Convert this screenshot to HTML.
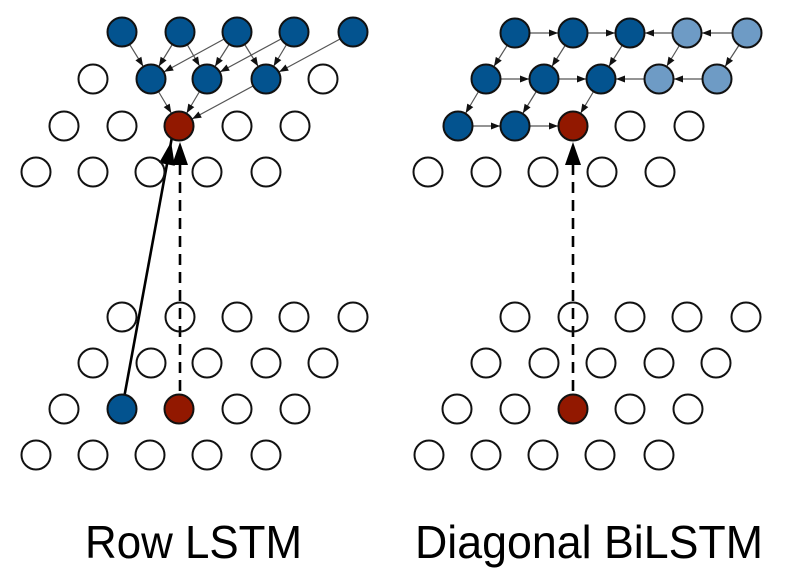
<!DOCTYPE html>
<html><head><meta charset="utf-8"><style>
html,body{margin:0;padding:0;background:#fff;width:796px;height:579px;overflow:hidden}
svg{display:block}
</style></head><body>
<svg width="796" height="579" viewBox="0 0 796 579" xmlns="http://www.w3.org/2000/svg">
<defs>
<marker id="s" markerUnits="userSpaceOnUse" markerWidth="40" markerHeight="10" refX="24" refY="3.5" orient="auto" overflow="visible">
<path d="M0,0 L9,3.5 L0,7 z" fill="#111"/></marker>
<marker id="b" markerUnits="userSpaceOnUse" markerWidth="60" markerHeight="20" refX="39" refY="8" orient="auto" overflow="visible">
<path d="M0,0 L23,8 L0,16 z" fill="#000"/></marker>
</defs>
<g stroke="#555" stroke-width="1.2" marker-end="url(#s)">
<!-- left row1 -> row2 -->
<line x1="122" y1="32" x2="151" y2="79"/>
<line x1="180" y1="32" x2="151" y2="79"/>
<line x1="237" y1="32" x2="151" y2="79"/>
<line x1="180" y1="32" x2="207" y2="79"/>
<line x1="237" y1="32" x2="207" y2="79"/>
<line x1="294" y1="32" x2="207" y2="79"/>
<line x1="237" y1="32" x2="266" y2="79"/>
<line x1="294" y1="32" x2="266" y2="79"/>
<line x1="353" y1="32" x2="266" y2="79"/>
<line x1="151" y1="79" x2="179" y2="126"/>
<line x1="207" y1="79" x2="179" y2="126"/>
<line x1="266" y1="79" x2="179" y2="126"/>
<!-- right -->
<line x1="515" y1="33" x2="573" y2="33"/>
<line x1="573" y1="33" x2="630" y2="33"/>
<line x1="687" y1="33" x2="630" y2="33"/>
<line x1="747" y1="33" x2="687" y2="33"/>
<line x1="486" y1="79" x2="544" y2="79"/>
<line x1="544" y1="79" x2="601" y2="79"/>
<line x1="659" y1="79" x2="601" y2="79"/>
<line x1="717" y1="79" x2="659" y2="79"/>
<line x1="458" y1="126" x2="515" y2="126"/>
<line x1="515" y1="126" x2="573" y2="126"/>
<line x1="515" y1="33" x2="486" y2="79"/>
<line x1="573" y1="33" x2="544" y2="79"/>
<line x1="630" y1="33" x2="601" y2="79"/>
<line x1="687" y1="33" x2="659" y2="79"/>
<line x1="747" y1="33" x2="717" y2="79"/>
<line x1="486" y1="79" x2="458" y2="126"/>
<line x1="544" y1="79" x2="515" y2="126"/>
<line x1="601" y1="79" x2="573" y2="126"/>
</g>
<g stroke="#000" stroke-width="2.6" fill="none" marker-end="url(#b)">
<line x1="122" y1="409" x2="174" y2="126"/>
<line x1="180" y1="409" x2="180" y2="126" stroke-dasharray="11,7"/>
<line x1="573" y1="409" x2="573" y2="126" stroke-dasharray="11,7"/>
</g>
<g stroke="#111" stroke-width="2" fill="#fff">
<!-- left top grid -->
<circle cx="122" cy="32" r="14.5" fill="#03538f"/><circle cx="180" cy="32" r="14.5" fill="#03538f"/><circle cx="237" cy="32" r="14.5" fill="#03538f"/><circle cx="294" cy="32" r="14.5" fill="#03538f"/><circle cx="353" cy="32" r="14.5" fill="#03538f"/>
<circle cx="93" cy="79" r="14.5"/><circle cx="151" cy="79" r="14.5" fill="#03538f"/><circle cx="207" cy="79" r="14.5" fill="#03538f"/><circle cx="266" cy="79" r="14.5" fill="#03538f"/><circle cx="323" cy="79" r="14.5"/>
<circle cx="64" cy="126" r="14.5"/><circle cx="122" cy="126" r="14.5"/><circle cx="179" cy="126" r="14.5" fill="#921800"/><circle cx="237" cy="126" r="14.5"/><circle cx="295" cy="126" r="14.5"/>
<circle cx="36" cy="172" r="14.5"/><circle cx="93" cy="172" r="14.5"/><circle cx="150" cy="172" r="14.5" fill="none"/><circle cx="207" cy="172" r="14.5" fill="none"/><circle cx="266" cy="172" r="14.5"/>
<!-- left bottom grid -->
<circle cx="122" cy="317" r="14.5"/><circle cx="180" cy="317" r="14.5" fill="none"/><circle cx="237" cy="317" r="14.5"/><circle cx="294" cy="317" r="14.5"/><circle cx="353" cy="317" r="14.5"/>
<circle cx="93" cy="363" r="14.5"/><circle cx="151" cy="363" r="14.5" fill="none"/><circle cx="207" cy="363" r="14.5"/><circle cx="266" cy="363" r="14.5"/><circle cx="323" cy="363" r="14.5"/>
<circle cx="64" cy="409" r="14.5"/><circle cx="122" cy="409" r="14.5" fill="#03538f"/><circle cx="179" cy="409" r="14.5" fill="#921800"/><circle cx="237" cy="409" r="14.5"/><circle cx="295" cy="409" r="14.5"/>
<circle cx="36" cy="455" r="14.5"/><circle cx="93" cy="455" r="14.5"/><circle cx="150" cy="455" r="14.5"/><circle cx="207" cy="455" r="14.5"/><circle cx="266" cy="455" r="14.5"/>
<!-- right top grid -->
<circle cx="515" cy="33" r="14.5" fill="#03538f"/><circle cx="573" cy="33" r="14.5" fill="#03538f"/><circle cx="630" cy="33" r="14.5" fill="#03538f"/><circle cx="687" cy="33" r="14.5" fill="#6e9bc5"/><circle cx="747" cy="33" r="14.5" fill="#6e9bc5"/>
<circle cx="486" cy="79" r="14.5" fill="#03538f"/><circle cx="544" cy="79" r="14.5" fill="#03538f"/><circle cx="601" cy="79" r="14.5" fill="#03538f"/><circle cx="659" cy="79" r="14.5" fill="#6e9bc5"/><circle cx="717" cy="79" r="14.5" fill="#6e9bc5"/>
<circle cx="458" cy="126" r="14.5" fill="#03538f"/><circle cx="515" cy="126" r="14.5" fill="#03538f"/><circle cx="573" cy="126" r="14.5" fill="#921800"/><circle cx="630" cy="126" r="14.5"/><circle cx="689" cy="126" r="14.5"/>
<circle cx="428" cy="172" r="14.5"/><circle cx="486" cy="172" r="14.5"/><circle cx="543" cy="172" r="14.5" fill="none"/><circle cx="602" cy="172" r="14.5" fill="none"/><circle cx="660" cy="172" r="14.5"/>
<!-- right bottom grid -->
<circle cx="515" cy="317" r="14.5"/><circle cx="573" cy="317" r="14.5" fill="none"/><circle cx="630" cy="317" r="14.5"/><circle cx="687" cy="317" r="14.5"/><circle cx="746" cy="317" r="14.5"/>
<circle cx="486" cy="363" r="14.5"/><circle cx="544" cy="363" r="14.5"/><circle cx="601" cy="363" r="14.5"/><circle cx="659" cy="363" r="14.5"/><circle cx="716" cy="363" r="14.5"/>
<circle cx="457" cy="409" r="14.5"/><circle cx="515" cy="409" r="14.5"/><circle cx="573" cy="409" r="14.5" fill="#921800"/><circle cx="630" cy="409" r="14.5"/><circle cx="688" cy="409" r="14.5"/>
<circle cx="429" cy="455" r="14.5"/><circle cx="486" cy="455" r="14.5"/><circle cx="543" cy="455" r="14.5"/><circle cx="600" cy="455" r="14.5"/><circle cx="659" cy="455" r="14.5"/>
</g>
<g font-family="Liberation Sans, sans-serif" font-size="46" fill="#000">
<text x="85" y="558" textLength="217" lengthAdjust="spacingAndGlyphs">Row LSTM</text>
<text x="415" y="558" textLength="348" lengthAdjust="spacingAndGlyphs">Diagonal BiLSTM</text>
</g>
</svg>
</body></html>
